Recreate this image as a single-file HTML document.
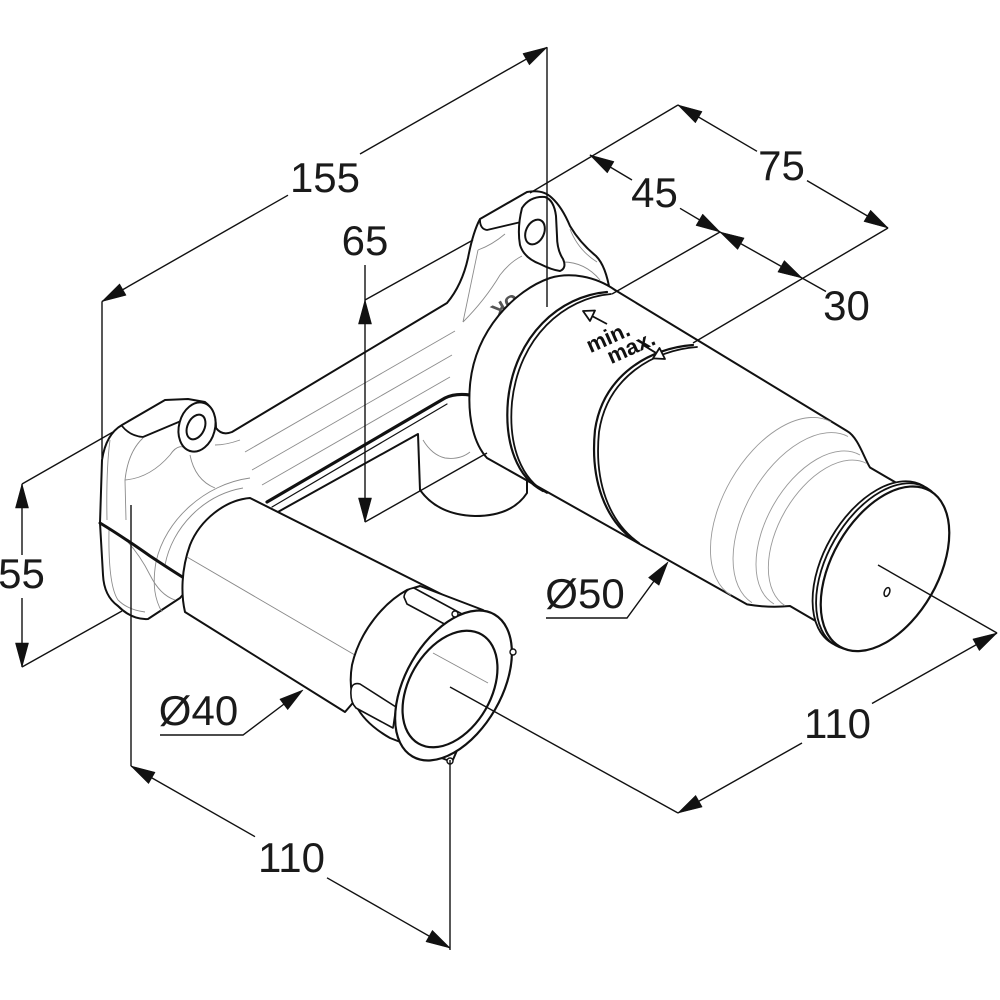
<!DOCTYPE html>
<html><head><meta charset="utf-8">
<style>html,body{margin:0;padding:0;background:#fff}svg{display:block}</style>
</head>
<body>
<svg width="1000" height="1000" viewBox="0 0 1000 1000" xmlns="http://www.w3.org/2000/svg">
<rect width="1000" height="1000" fill="#fff"/>

<!-- ===== BRACKET ===== -->
<g stroke="#111" stroke-width="2" fill="#fff" stroke-linejoin="round" stroke-linecap="round">
<path d="M122,425 L165,400 L188,399 L205,402 Q216,410 216,428 Q222,436 232,432 L447,303 Q462,285 468,258 Q473,232 480,219 L527,192 Q543,189 552,198 Q562,207 570,226 Q580,243 596,256 Q606,266 610,292 L540,360 L527,478 L527,493 Q512,516 475,516 Q438,515 420,490 L418,434 L285,508 L232,538 L180,598 L148,619 Q132,620 118,606 Q104,596 103,575 L100,523 L102,460 Q106,434 122,425 Z"/>
</g>
<!-- bracket gray details -->
<g stroke="#8c8c8c" stroke-width="0.9" fill="none">
<path d="M110,440 Q106,470 107,520"/>
<path d="M109,530 Q108,585 118,600 Q128,610 145,612"/>
<path d="M143,438 Q128,452 125,480 L126,520"/>
<path d="M125,480 Q150,478 170,455 Q180,440 190,452"/>
<path d="M126,540 Q140,555 150,575 Q160,595 175,600"/>
<path d="M190,455 Q195,480 215,488"/>
<path d="M215,445 Q226,445 240,440"/>
<path d="M245,452 L455,331"/>
<path d="M252,470 L452,355"/>
<path d="M262,485 L450,377"/>
<path d="M463,322 L478,250"/>
<path d="M463,322 Q485,300 500,275 Q510,262 522,256"/>
<path d="M478,250 Q492,245 505,234"/>
<path d="M563,262 Q585,262 600,280"/>
<path d="M570,229 Q578,250 597,262"/>
<path d="M423,440 Q432,455 445,458 Q460,460 470,452"/>
<path d="M250,478 C205,484 165,520 156,562 C152,585 155,600 162,612"/>
<path d="M243,488 C203,495 172,528 165,565"/>
</g>
<!-- bracket dark lines -->
<g stroke="#111" fill="none" stroke-linecap="round" stroke-linejoin="round">
<path d="M267,502 L445,398 Q455,393 470,395" stroke-width="3.2"/>
<path d="M272,507 L447,404" stroke-width="1.2"/>
<path d="M100,523 Q120,535 150,556 Q168,568 184,578" stroke-width="3"/>
<path d="M122,426 Q130,436 143,437 L181,421" stroke-width="1.8"/>
<path d="M480,220 Q480,229 487,230 L521,222" stroke-width="1.8"/>
</g>
<!-- ears and holes -->
<g stroke="#111" stroke-width="2" fill="#fff">
<ellipse cx="197" cy="427" rx="18" ry="25" transform="rotate(15 197 427)"/>
<ellipse cx="196" cy="427" rx="8.5" ry="13" transform="rotate(25 196 427)"/>
<path d="M522,208 Q517,228 520,245 Q524,258 540,264 Q552,270 560,271 Q567,268 563,259 Q557,250 557,236 L556,216 Q554,200 545,197 Q530,196 522,208 Z"/>
<ellipse cx="535" cy="232" rx="9" ry="13" transform="rotate(25 535 232)"/>
</g>
<text transform="translate(502,300) rotate(150)" font-family="Liberation Sans, sans-serif" font-weight="bold" font-size="20" fill="#555" text-anchor="middle">UK</text>

<!-- ===== BIG CYLINDER (Ø50) ===== -->
<path d="M487,458 C475,445 467,420 470,385 C475,330 515,290 550,278 C570,272 595,276 615,290 L847,431 C858,437 864,458 870,467.5 L917.5,495.2 L837.5,633.8 L790,606 Q768,608 747,604.4 Z" fill="#fff" stroke="#111" stroke-width="2" stroke-linejoin="round"/>
<!-- taper gray arcs -->
<g stroke="#999" stroke-width="0.9" fill="none">
<path d="M831,422 A100,58 -60 0 0 731,595.2"/>
<path d="M848,436.5 A96,56 -60 0 0 752,602.7"/>
<path d="M860,455 A86,50 -60 0 0 774,604"/>
<path d="M867,463.6 A82,48 -60 0 0 785,605.6"/>
</g>
<!-- rings -->
<g stroke="#111" fill="none" stroke-linecap="round">
<path d="M607,292 C560,296 515,335 508,400 C504,445 518,478 543,491" stroke-width="2.2"/>
<path d="M611,294 C564,298 519,337 512,402 C508,447 522,480 547,493" stroke-width="1.8"/>
<path d="M693,345 C650,348 603,375 595,430 C590,480 605,520 635,541" stroke-width="2.2"/>
<path d="M697,347 C654,350 607,377 599,432 C594,482 609,522 639,543" stroke-width="1.8"/>
</g>
<!-- min / max marking -->
<g font-family="Liberation Sans, sans-serif" font-weight="bold" font-size="22" fill="#111" text-anchor="middle">
<text transform="translate(611,344) rotate(-24)">min.</text>
<text transform="translate(634,354) rotate(-24)">max.</text>
</g>
<g stroke="#111" stroke-width="1.8" fill="#fff" stroke-linejoin="round">
<path d="M592,316 L607,324" fill="none"/>
<polygon points="583,311 595,310.5 590,321"/>
<path d="M643,345 L656.4,353.2" fill="none"/>
<polygon points="665,359 653,358.4 659.5,348"/>
</g>
<!-- cap -->
<g stroke="#111" fill="#fff">
<ellipse cx="877.5" cy="564.5" rx="91" ry="53.5" transform="rotate(-60 877.5 564.5)" stroke-width="1.8"/>
<ellipse cx="881" cy="566.5" rx="91" ry="53.5" transform="rotate(-60 881 566.5)" stroke-width="1.8"/>
<ellipse cx="885" cy="568.8" rx="90" ry="53" transform="rotate(-60 885 568.8)" stroke-width="2.2"/>
<ellipse cx="887" cy="592" rx="2.6" ry="4.6" transform="rotate(20 887 592)" stroke-width="1.5"/>
</g>

<!-- ===== PIPE Ø40 ===== -->
<path d="M250,498 L445,596 L345,712 L185,612 C181,595 181,570 190,545 C200,520 225,500 250,498 Z" fill="#fff" stroke="#111" stroke-width="2" stroke-linejoin="round"/>
<path d="M187,557 L360,658" stroke="#888" stroke-width="0.9" fill="none"/>
<!-- nut -->
<g stroke="#111" fill="#fff" stroke-linejoin="round">
<path d="M407,590 C385,602 360,630 352,665 C347,695 355,718 390,738 L452,762 L505,640 L483,610 L420,586 Z" stroke-width="2"/>
<path d="M404,597 Q405,589 414,588 L462,614 L450,627 L407,604 Z" stroke-width="1.6"/>
<path d="M351,690 Q352,682 360,684 L396,707 L393,728 L356,708 Q350,702 351,690 Z" stroke-width="1.6"/>
<ellipse cx="453.5" cy="685.5" rx="82" ry="48" transform="rotate(-60 453.5 685.5)" stroke-width="2.2"/>
<ellipse cx="450" cy="689" rx="63" ry="41" transform="rotate(-60 450 689)" stroke-width="2.2"/>
<circle cx="455" cy="614" r="3" stroke-width="1.4"/>
<circle cx="513" cy="652" r="3" stroke-width="1.4"/>
<circle cx="450" cy="761" r="3" stroke-width="1.4"/>
</g>
<path d="M433,653 L488,683" stroke="#888" stroke-width="0.9" fill="none"/>

<!-- ===== DIMENSIONS ===== -->
<g stroke="#111" stroke-width="1.4" fill="none" stroke-linecap="butt">
<!-- 155 -->
<path d="M102,301.5 L288,195.2"/>
<path d="M360,154 L547,47.3"/>
<path d="M102,301.5 L102,458"/>
<path d="M547,47.3 L547,307"/>
<!-- 65 -->
<path d="M365,265 L365,522"/>
<path d="M365,300 L473,240"/>
<path d="M365,522 L487,453"/>
<!-- 75 / 45 / 30 -->
<path d="M678,105 L757,151.3"/>
<path d="M807,180.6 L888,228"/>
<path d="M590,155 L632,180"/>
<path d="M680,208.3 L720,232"/>
<path d="M720,232 L826,291.5"/>
<path d="M678,105 L530,193"/>
<path d="M720,232 L612,294"/>
<path d="M888,228 L693,343"/>
<!-- 55 -->
<path d="M22,484 L22,555"/>
<path d="M22,598 L22,667"/>
<path d="M22,484 L113,432"/>
<path d="M22,667 L122,611"/>
<!-- Ø40 -->
<path d="M160,735 L243,735 L300,692"/>
<!-- Ø50 -->
<path d="M546,618 L627,618 L665,566"/>
<!-- 110 bottom -->
<path d="M131,505 L131,766"/>
<path d="M131,766 L255,836.7"/>
<path d="M327,877.8 L450,948"/>
<path d="M450,760 L450,950"/>
<!-- 110 right -->
<path d="M997,633 L872,703.5"/>
<path d="M802,743 L678,813"/>
<path d="M450,687 L678,813"/>
<path d="M878,565 L997,633"/>
</g>
<!-- arrowheads -->
<g fill="#111" stroke="#111" stroke-width="0.6" stroke-linejoin="round">
<polygon points="102,301.5 119.6,284 126,295.2"/>
<polygon points="547,47.3 529.4,64.8 523,53.6"/>
<polygon points="365,300 358.5,324 371.5,324"/>
<polygon points="365,522 358.5,498 371.5,498"/>
<polygon points="678,105 702,111.5 695.4,122.7"/>
<polygon points="888,228 864,221.5 870.6,210.3"/>
<polygon points="590,155 613.9,161.6 607.3,172.8"/>
<polygon points="720,232 696.1,225.4 702.7,214.2"/>
<polygon points="720,232 744.1,238 737.7,249.4"/>
<polygon points="802,278 777.9,272 784.3,260.6"/>
<polygon points="22,484 15.5,508 28.5,508"/>
<polygon points="22,667 15.5,643 28.5,643"/>
<polygon points="303,690 287.7,709.6 279.9,699.2"/>
<polygon points="668,562 659,585.2 648.6,577.6"/>
<polygon points="131,766 155,772.3 148.6,783.5"/>
<polygon points="450,948 426,941.7 432.4,930.4"/>
<polygon points="997,633 979.3,650.5 972.9,639.1"/>
<polygon points="678,813 695.7,795.5 702.1,806.9"/>
</g>
<!-- dimension text -->
<g font-family="Liberation Sans, sans-serif" font-size="42" fill="#1a1a1a" text-anchor="middle">
<text x="325" y="192">155</text>
<text x="365" y="255">65</text>
<text x="781.5" y="180">75</text>
<text x="654.5" y="207">45</text>
<text x="846.5" y="320">30</text>
<text x="21.5" y="588">55</text>
<text x="198.5" y="725">Ø40</text>
<text x="585" y="608">Ø50</text>
<text x="291.5" y="872">110</text>
<text x="837.5" y="738">110</text>
</g>
</svg>
</body>
</html>
